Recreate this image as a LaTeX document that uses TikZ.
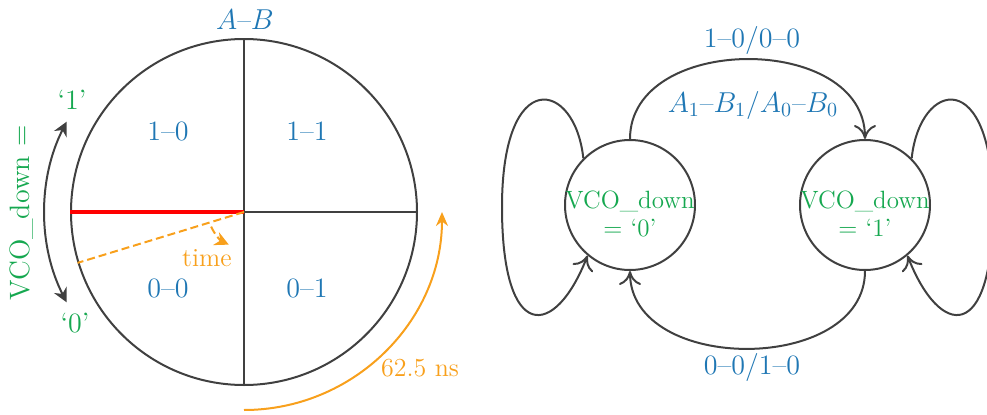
\documentclass[tikz,border=0pt]{standalone}
\usetikzlibrary{arrows.meta}
\definecolor{cgray}{RGB}{64,64,64}
\definecolor{cblue}{RGB}{31,119,180}
\definecolor{cgreen}{RGB}{22,168,80}
\definecolor{corange}{RGB}{248,160,28}
\begin{document}
\begin{tikzpicture}[x=0.5pt,y=0.5pt,
  lab/.style={font=\fontsize{14}{16}\selectfont, text=cblue, inner sep=0pt},
  glab/.style={font=\fontsize{14}{16}\selectfont, text=cgreen, inner sep=0pt},
  olab/.style={font=\fontsize{13}{15}\selectfont, text=corange, inner sep=0pt},
  ln/.style={draw=cgray, line width=1pt},
  statebox/.style={circle, draw=cgray, line width=1pt, minimum size=65pt, inner sep=0pt},
  statetext/.style={font=\fontsize{12.5}{14}\selectfont, text=cgreen, align=center, inner sep=0pt},
  tr/.style={draw=cgray, line width=1pt, -{Computer Modern Rightarrow[length=7pt,width=11pt]}},
]
\useasboundingbox (0,0) rectangle (987,414);

% ---- left: phase circle ----
\node[circle, draw=cgray, line width=1pt, minimum size=173pt, inner sep=0pt] (C) at (244,202) {};
\draw[ln] (C.north) -- (C.south);
\draw[ln] (C.west) -- (C.east);
\draw[red, line width=2.2pt] (C.west) -- (C.center);
\draw[corange, line width=1pt, dash pattern=on 4pt off 2pt] (C.center) -- (C.197.5);
\draw[corange, line width=1pt, dash pattern=on 4pt off 2pt, -{Stealth[length=7pt,width=7pt]}]
  ([shift={(204:18pt)}]C.center) arc[start angle=204, end angle=245, radius=18pt];
\node[olab] (time) at (207,156) {time};

\node[lab] (q10) at (168,283) {1–0};
\node[lab] (q11) at (307,283) {1–1};
\node[lab] (q00) at (168,126) {0–0};
\node[lab] (q01) at (307,126) {0–1};
\node[lab] (AB) at (245,394) {$A$–$B$};

\draw[cgray, line width=1pt, {Stealth[length=7pt,width=7pt]}-{Stealth[length=7pt,width=7pt]}]
  ([shift={(153:99.5pt)}]C.center) arc[start angle=153, end angle=207, radius=99.5pt];
\node[glab] (one) at (72,314) {‘1’};
\node[glab] (zero) at (75,91) {‘0’};
\node[glab, rotate=90] (vco) at (22,201) {VCO\_down =};

\draw[corange, line width=1pt, -{Stealth[length=7pt,width=6pt]}]
  ([shift={(270:99pt)}]C.center) arc[start angle=270, end angle=360, radius=99pt];
\node[olab] (ns) at (420,46) {62.5 ns};

% ---- right: state machine ----
\node[statebox] (S0) at (630,209) {};
\node[statebox] (S1) at (865,209) {};
\node[statetext] (T0) at (630,200) {VCO\_down\\= ‘0’};
\node[statetext] (T1) at (865,200) {VCO\_down\\= ‘1’};

\draw[tr] (S0.north) to[out=90, in=90, looseness=1.16] (S1.north);
\draw[tr] (S1.south) to[out=-90, in=-90, looseness=1.13] (S0.south);
\node[lab] (top1) at (752,374) {1–0/0–0};
\node[lab] (top2) at (753,309) {$A_1$–$B_1$/$A_0$–$B_0$};
\node[lab] (bot1) at (752,47) {0–0/1–0};

\coordinate (L0) at (502,207);
\coordinate (L1) at (993,207);
\draw[tr] (S0.135) .. controls (575,334) and (502,349) .. (L0)
  .. controls (502,70) and (555,75) .. (S0.230);
\draw[tr] (S1.45) .. controls (920,334) and (993,349) .. (L1)
  .. controls (993,70) and (940,75) .. (S1.310);
\end{tikzpicture}
\end{document}
